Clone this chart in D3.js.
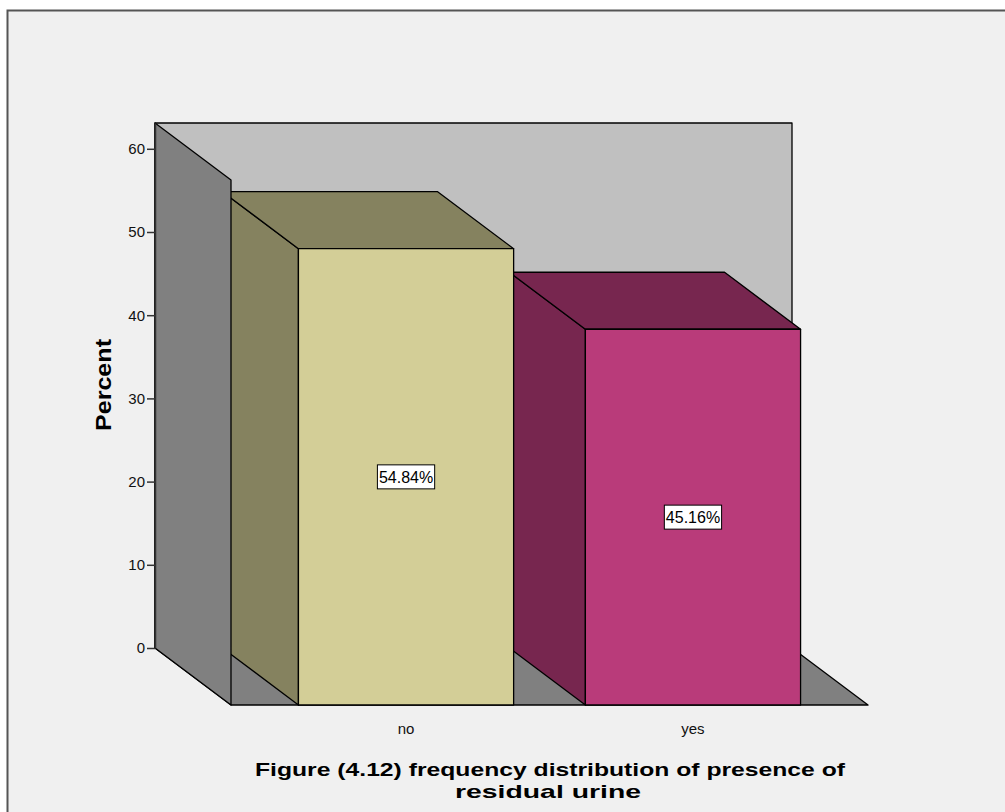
<!DOCTYPE html>
<html>
<head>
<meta charset="utf-8">
<script src="https://cdn.jsdelivr.net/npm/d3@7"></script>
<style>
  html, body { margin: 0; padding: 0; background: #ffffff; }
  svg { display: block; }
  text { font-family: "Liberation Sans", Arial, sans-serif; }
</style>
</head>
<body>
<svg id="chart" width="1005" height="812"></svg>
<script>
// Data
const categories = ["no", "yes"];
const percents = [54.84, 45.16];
const valueLabels = ["54.84%", "45.16%"];
const yTicks = [0, 10, 20, 30, 40, 50, 60];
const titleLines = ["Figure (4.12) frequency distribution of presence of", "residual urine"];
const yTitle = "Percent";

const frontColors = ["#d3ce97", "#b93b7a"];
const sideColors = ["#85825f", "#77264f"];

const svg = d3.select("#chart");

// Outer frame
svg.append("rect")
  .attr("x", 7.5).attr("y", 10.5)
  .attr("width", 1020).attr("height", 820)
  .attr("fill", "#f0f0f0")
  .attr("stroke", "#555555").attr("stroke-width", 2);

// Back plane scales; the front plane is shifted by the depth offset
const depth = { dx: 76, dy: 57 };
const y = d3.scaleLinear().domain([0, 63.1]).range([648, 123]);
const x = d3.scaleBand().domain(categories).range([155, 792])
  .paddingInner(0.25).paddingOuter(0.235);

const xL = 155, xR = 792, yTop = y(63.1), yBase = y(0);
const pts = a => a.map(p => p.join(",")).join(" ");
const edge = { stroke: "#000000", "stroke-width": 1.3, "stroke-linejoin": "round" };
function poly(g, points, fill) {
  const p = g.append("polygon").attr("points", pts(points)).attr("fill", fill);
  Object.entries(edge).forEach(([k, v]) => p.attr(k, v));
  return p;
}

const scene = svg.append("g");

// Back wall
poly(scene, [[xL, yTop], [xR, yTop], [xR, yBase], [xL, yBase]], "#c0c0c0");
// Floor
poly(scene, [[xL, yBase], [xR, yBase], [xR + depth.dx, yBase + depth.dy], [xL + depth.dx, yBase + depth.dy]], "#808080");

// Bars, drawn right to left so nearer faces overlap correctly
const order = d3.range(categories.length).reverse();
order.forEach(i => {
  const c = categories[i];
  const bx0 = x(c), bx1 = x(c) + x.bandwidth();
  const by = y(percents[i]);
  const fx0 = bx0 + depth.dx, fx1 = bx1 + depth.dx;
  const fy = by + depth.dy, fb = yBase + depth.dy;
  const g = scene.append("g");
  // left side
  poly(g, [[bx0, by], [fx0, fy], [fx0, fb], [bx0, yBase]], sideColors[i]);
  // top
  poly(g, [[bx0, by], [bx1, by], [fx1, fy], [fx0, fy]], sideColors[i]);
  // front
  poly(g, [[fx0, fy], [fx1, fy], [fx1, fb], [fx0, fb]], frontColors[i]);
});

// Left wall sits in front of the bars' back corners
poly(scene, [[xL, yTop], [xL + depth.dx, yTop + depth.dy], [xL + depth.dx, yBase + depth.dy], [xL, yBase]], "#808080");

// Value labels on front faces
order.forEach(i => {
  const c = categories[i];
  const cx = x(c) + x.bandwidth() / 2 + depth.dx;
  const cy = (y(percents[i]) + yBase) / 2 + depth.dy;
  const g = svg.append("g").attr("transform", `translate(${cx},${cy})`);
  const t = g.append("text")
    .attr("text-anchor", "middle").attr("dy", "0.36em")
    .attr("font-size", 16).attr("fill", "#000")
    .text(valueLabels[i]);
  const bb = t.node().getBBox();
  g.insert("rect", "text")
    .attr("x", bb.x - 1.5).attr("y", -12)
    .attr("width", bb.width + 3).attr("height", 24)
    .attr("fill", "#ffffff").attr("stroke", "#000").attr("stroke-width", 1);
});

// Y axis
const yAxis = d3.axisLeft(y).tickValues(yTicks).tickSize(8).tickSizeOuter(0).tickPadding(2);
const ag = svg.append("g").attr("transform", `translate(${xL},0)`).call(yAxis);
ag.select(".domain").attr("stroke", "#333").attr("stroke-width", 1.5);
ag.selectAll(".tick line").attr("stroke", "#333").attr("stroke-width", 1.5);
ag.selectAll(".tick text").attr("font-size", 15).attr("fill", "#111")
  .attr("font-family", "Liberation Sans, Arial, sans-serif");

// Category labels under the front edge
categories.forEach(c => {
  svg.append("text")
    .attr("x", x(c) + x.bandwidth() / 2 + depth.dx)
    .attr("y", yBase + depth.dy + 29)
    .attr("text-anchor", "middle").attr("font-size", 15).attr("fill", "#111")
    .text(c);
});

// Y title
svg.append("text")
  .attr("transform", "translate(111,385) rotate(-90)")
  .attr("text-anchor", "middle").attr("font-size", 22).attr("font-weight", "bold")
  .attr("textLength", 92).attr("lengthAdjust", "spacingAndGlyphs")
  .text(yTitle);

// Figure caption
const tg = svg.append("text").attr("text-anchor", "middle")
  .attr("font-size", 19).attr("font-weight", "bold").attr("fill", "#000");
tg.append("tspan").attr("x", 550).attr("y", 776)
  .attr("textLength", 590).attr("lengthAdjust", "spacingAndGlyphs").text(titleLines[0]);
tg.append("tspan").attr("x", 548).attr("y", 798)
  .attr("textLength", 186).attr("lengthAdjust", "spacingAndGlyphs").text(titleLines[1]);
</script>
</body>
</html>
